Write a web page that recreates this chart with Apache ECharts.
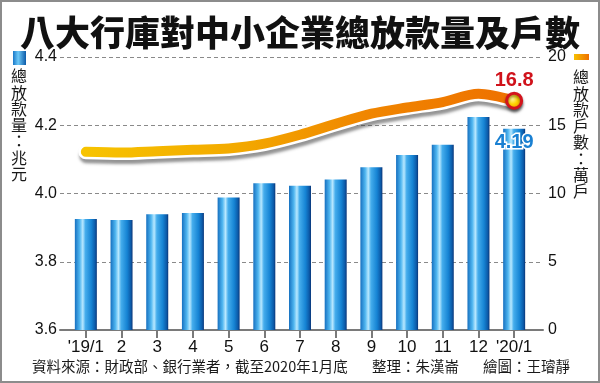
<!DOCTYPE html>
<html>
<head>
<meta charset="utf-8">
<script src="https://cdn.jsdelivr.net/npm/echarts@6/dist/echarts.min.js"></script>
<style>
html,body{margin:0;padding:0;background:#fff;}
#c{width:600px;height:383px;}
</style>
</head>
<body>
<div id="c"></div>
<script>
const titleText = '八大行庫對中小企業總放款量及戶數';
const categories = ["'19/1","2","3","4","5","6","7","8","9","10","11","12","'20/1"];
const loanAmount = [3.925,3.922,3.939,3.943,3.988,4.030,4.023,4.041,4.077,4.113,4.143,4.224,4.19];
const loanAccounts = [13.05,13.0,13.1,13.2,13.3,13.65,14.3,15.1,15.85,16.3,16.7,17.3,16.8];
const leftTicks = [3.6,3.8,4.0,4.2,4.4];
const rightTicks = [0,5,10,15,20];
const leftName = '總放款量：兆元';
const rightName = '總放款戶數：萬戶';
const sourceText = '資料來源：財政部、銀行業者，截至2020年1月底';
const editorText = '整理：朱漢崙';
const drawerText = '繪圖：王璿靜';

const numFont = "'Liberation Sans', Arial, sans-serif";
const cjkFont = "'Noto Sans CJK TC', 'Noto Sans CJK SC', sans-serif";

const barGrad = new echarts.graphic.LinearGradient(0,0,1,0,[
  {offset:0,color:'#1670c0'},
  {offset:0.22,color:'#4fb6f0'},
  {offset:0.36,color:'#b8e8ff'},
  {offset:0.48,color:'#45adec'},
  {offset:0.75,color:'#1684d4'},
  {offset:0.92,color:'#0c5aa8'},
  {offset:1,color:'#0a3577'}
]);
const lineGrad = new echarts.graphic.LinearGradient(0,0,1,0,[
  {offset:0,color:'#f7c400'},
  {offset:0.35,color:'#f3aa00'},
  {offset:0.65,color:'#f08600'},
  {offset:1,color:'#ee7000'}
]);

const lastIdx = loanAccounts.length - 1;
const lineData = loanAccounts.map((v,i)=> i===lastIdx ? {
  value:v, symbol:'circle', symbolSize:15,
  itemStyle:{
    color:new echarts.graphic.RadialGradient(0.4,0.4,0.6,[{offset:0,color:'#fff7a0'},{offset:0.5,color:'#ffd400'},{offset:1,color:'#f39a00'}]),
    borderColor:'#d3141c', borderWidth:3,
    shadowColor:'rgba(0,0,0,0.4)', shadowBlur:3, shadowOffsetY:2
  },
  label:{show:true, position:'top', distance:1, formatter:'{c}', color:'#d0121b',
    fontSize:20, fontWeight:'bold', fontFamily:"'Liberation Sans Narrow', 'Liberation Sans', Arial, sans-serif"}
} : {value:v, symbol:'none'});

const barData = loanAmount.map((v,i)=> i===lastIdx ? {
  value:v,
  label:{show:true, position:'insideTop', distance:4, formatter:'{c}', color:'#1a80d2',
    fontSize:20, fontWeight:'bold', fontFamily:"'Liberation Sans Narrow', 'Liberation Sans', Arial, sans-serif",
    textBorderColor:'#fff', textBorderWidth:3}
} : v);

const chart = echarts.init(document.getElementById('c'), null, {renderer:'canvas'});
chart.setOption({
  animation:false,
  backgroundColor:'#fff',
  title:{text:titleText, left:'center', top:10,
    textStyle:{fontSize:35, fontWeight:900, color:'#111', fontFamily:cjkFont}},
  grid:[
    {left:60, right:57, top:57, bottom:53},
    {left:68, right:68, top:57, bottom:53}
  ],
  xAxis:[
    {type:'value', gridIndex:0, min:0, max:1, show:true,
      axisLine:{show:true, onZero:false, lineStyle:{color:'#7a7a7a', width:2}},
      axisTick:{show:false}, axisLabel:{show:false}, splitLine:{show:false}},
    {type:'category', gridIndex:1, data:categories,
      axisLine:{show:false},
      axisTick:{show:true, alignWithLabel:true, length:8, lineStyle:{color:'#7a7a7a', width:2}},
      axisLabel:{fontSize:17, color:'#111', margin:9, fontFamily:numFont, interval:0}}
  ],
  yAxis:[
    {type:'value', gridIndex:0, position:'left', min:leftTicks[0], max:leftTicks[leftTicks.length-1],
      interval:leftTicks[1]-leftTicks[0],
      axisLine:{show:false}, axisTick:{show:false},
      axisLabel:{fontSize:16, color:'#111', margin:3, fontFamily:numFont, formatter:v=>v.toFixed(1)},
      splitLine:{show:true, lineStyle:{color:'#8a8a8a', width:1, type:[4,3]}}},
    {type:'value', gridIndex:0, position:'right', min:rightTicks[0], max:rightTicks[rightTicks.length-1],
      interval:rightTicks[1]-rightTicks[0],
      axisLine:{show:false}, axisTick:{show:false},
      axisLabel:{fontSize:16, color:'#111', margin:5, fontFamily:numFont},
      splitLine:{show:false}},
    {type:'value', gridIndex:1, show:false, min:leftTicks[0], max:leftTicks[leftTicks.length-1], splitLine:{show:false}},
    {type:'value', gridIndex:1, show:false, min:rightTicks[0], max:rightTicks[rightTicks.length-1], splitLine:{show:false}}
  ],
  series:[
    {type:'bar', xAxisIndex:1, yAxisIndex:2, data:barData, barWidth:22,
      itemStyle:{color:barGrad}, z:2},
    {type:'line', xAxisIndex:1, yAxisIndex:3, data:loanAccounts, smooth:0.3, symbol:'none',
      lineStyle:{width:15, color:'#ffffff', cap:'round', join:'round',
        shadowColor:'rgba(60,60,60,0.55)', shadowBlur:3, shadowOffsetY:4, shadowOffsetX:1},
      silent:true, z:3},
    {type:'line', xAxisIndex:1, yAxisIndex:3, data:lineData, smooth:0.3, showSymbol:true,
      lineStyle:{width:10, color:lineGrad, cap:'round', join:'round'}, z:4}
  ],
  graphic:[
    {type:'rect', shape:{x:1, y:1, width:598, height:381}, style:{fill:'none', stroke:'#8c8c8c', lineWidth:2}, z:100},
    {type:'rect', shape:{x:13, y:51, width:13, height:14},
      style:{fill:new echarts.graphic.LinearGradient(0,0,1,0,[{offset:0,color:'#1a78c8'},{offset:0.4,color:'#6cc8f7'},{offset:1,color:'#0c5aa8'}])}},
    {type:'rect', shape:{x:574, y:54, width:15, height:6},
      style:{fill:new echarts.graphic.LinearGradient(0,0,1,0,[{offset:0,color:'#f7c000'},{offset:1,color:'#ee7000'}])}},
    {type:'text', left:11, top:68, style:{text:leftName.split('').join('\n'), fontSize:16, lineHeight:16.3,
      fill:'#1a1a1a', fontFamily:cjkFont, align:'center'}},
    {type:'text', left:573, top:69, style:{text:rightName.split('').join('\n'), fontSize:16, lineHeight:16.3,
      fill:'#1a1a1a', fontFamily:cjkFont, align:'center'}},
    {type:'text', left:32, top:359, style:{text:sourceText, fontSize:14.5, fill:'#1a1a1a', fontFamily:cjkFont}},
    {type:'text', left:372, top:359, style:{text:editorText, fontSize:14.5, fill:'#1a1a1a', fontFamily:cjkFont}},
    {type:'text', left:483, top:359, style:{text:drawerText, fontSize:14.5, fill:'#1a1a1a', fontFamily:cjkFont}}
  ]
});
</script>
</body>
</html>
